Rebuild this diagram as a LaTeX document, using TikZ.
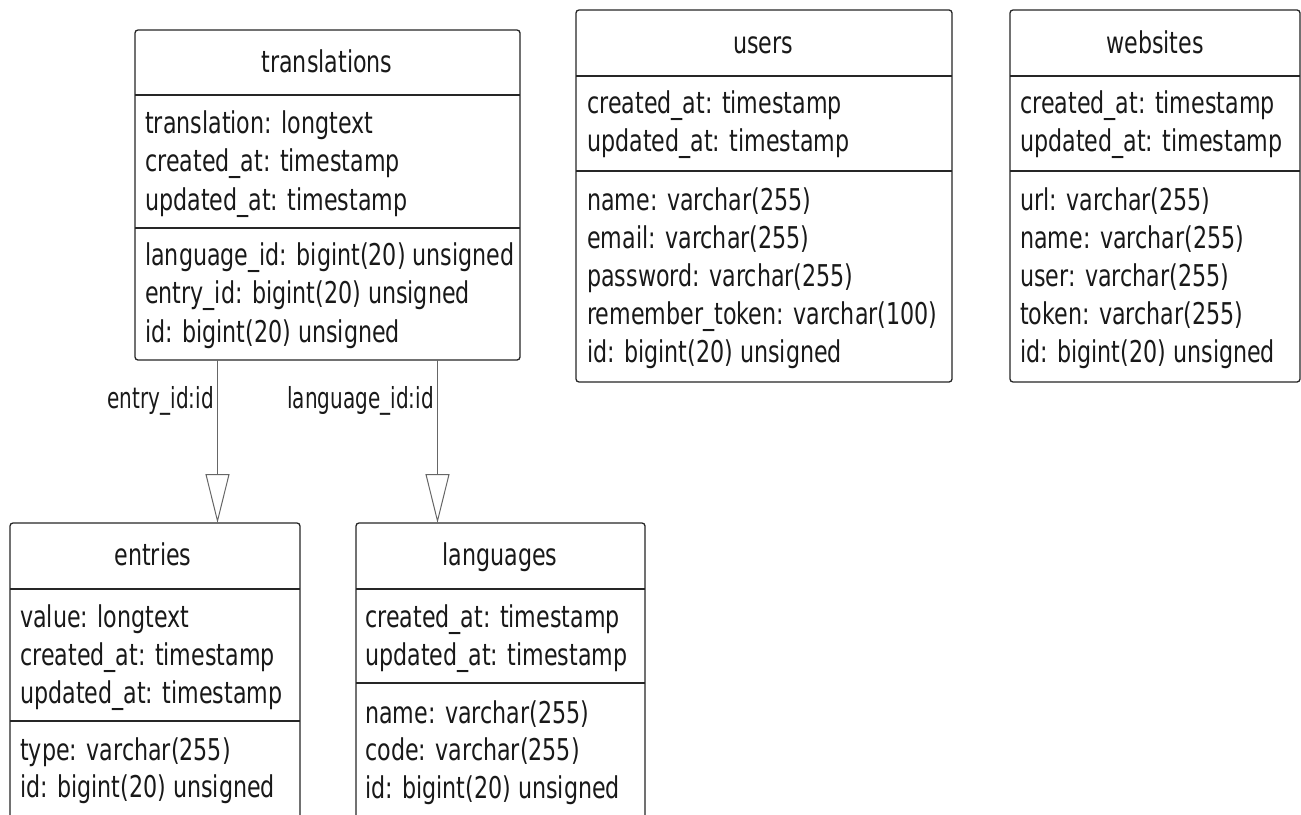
\documentclass[tikz,border=0pt]{standalone}
\usepackage{fontspec}
\setmainfont{DejaVu Sans}[FakeStretch=0.74]
\newfontfamily\lblfont{DejaVu Sans}[FakeStretch=0.69]
\usetikzlibrary{arrows.meta}
\begin{document}
\begin{tikzpicture}[x=1pt,y=-1pt,
  tbl/.style={draw=black!85, line width=1.3pt, rounded corners=3pt, anchor=north west, inner sep=0pt, outer sep=0pt, fill=white},
  sepline/.style={draw=black!85, line width=1.3pt},
  fld/.style={anchor=base west, inner sep=0pt, font=\fontsize{30}{36}\selectfont, text=black!90},
  ttl/.style={anchor=base, inner sep=0pt, font=\fontsize{30}{36}\selectfont, text=black!90},
  lbl/.style={anchor=base east, inner sep=0pt, font=\lblfont\fontsize{29}{34}\selectfont, text=black!90},
  fk/.style={draw=black!60, line width=1pt, -{Triangle[open, length=49pt, width=24pt, line width=1pt]}}
]
\useasboundingbox (0,0) rectangle (1301,814);
\clip (0,0) rectangle (1301,814);

% ---------- translations ----------
\node[tbl, minimum width=385pt, minimum height=330pt] (translations) at (135,30) {};
\draw[sepline] (translations.west |- 0,95) -- (translations.east |- 0,95);
\draw[sepline] (translations.west |- 0,228) -- (translations.east |- 0,228);
\node[ttl] (translations-t) at (327,72) {translations};
\foreach \t [count=\i] in {translation: longtext, created\_at: timestamp, updated\_at: timestamp}
  \node[fld] (translations-a\i) at (145,{133+(\i-1)*38.5}) {\t};
\foreach \t [count=\i] in {language\_id: bigint(20) unsigned, entry\_id: bigint(20) unsigned, id: bigint(20) unsigned}
  \node[fld] (translations-b\i) at (145,{265+(\i-1)*38.5}) {\t};

% ---------- users ----------
\node[tbl, minimum width=376pt, minimum height=372pt] (users) at (576,10) {};
\draw[sepline] (users.west |- 0,76) -- (users.east |- 0,76);
\draw[sepline] (users.west |- 0,171) -- (users.east |- 0,171);
\node[ttl] (users-t) at (763,53) {users};
\foreach \t [count=\i] in {created\_at: timestamp, updated\_at: timestamp}
  \node[fld] (users-a\i) at (587,{113+(\i-1)*38.5}) {\t};
\foreach \t [count=\i] in {name: varchar(255), email: varchar(255), password: varchar(255), remember\_token: varchar(100), id: bigint(20) unsigned}
  \node[fld] (users-b\i) at (587,{210+(\i-1)*38}) {\t};

% ---------- websites ----------
\node[tbl, minimum width=290pt, minimum height=372pt] (websites) at (1010,10) {};
\draw[sepline] (websites.west |- 0,76) -- (websites.east |- 0,76);
\draw[sepline] (websites.west |- 0,171) -- (websites.east |- 0,171);
\node[ttl] (websites-t) at (1155,53) {websites};
\foreach \t [count=\i] in {created\_at: timestamp, updated\_at: timestamp}
  \node[fld] (websites-a\i) at (1020,{113+(\i-1)*38.5}) {\t};
\foreach \t [count=\i] in {url: varchar(255), name: varchar(255), user: varchar(255), token: varchar(255), id: bigint(20) unsigned}
  \node[fld] (websites-b\i) at (1020,{210+(\i-1)*38}) {\t};

% ---------- entries ----------
\node[tbl, minimum width=290pt, minimum height=320pt] (entries) at (10,523) {};
\draw[sepline] (entries.west |- 0,589) -- (entries.east |- 0,589);
\draw[sepline] (entries.west |- 0,721) -- (entries.east |- 0,721);
\node[ttl] (entries-t) at (153,565) {entries};
\foreach \t [count=\i] in {value: longtext, created\_at: timestamp, updated\_at: timestamp}
  \node[fld] (entries-a\i) at (20,{627+(\i-1)*38}) {\t};
\foreach \t [count=\i] in {type: varchar(255), id: bigint(20) unsigned}
  \node[fld] (entries-b\i) at (20,{760+(\i-1)*37.5}) {\t};

% ---------- languages ----------
\node[tbl, minimum width=289pt, minimum height=320pt] (languages) at (356,523) {};
\draw[sepline] (languages.west |- 0,589) -- (languages.east |- 0,589);
\draw[sepline] (languages.west |- 0,683) -- (languages.east |- 0,683);
\node[ttl] (languages-t) at (500,565) {languages};
\foreach \t [count=\i] in {created\_at: timestamp, updated\_at: timestamp}
  \node[fld] (languages-a\i) at (365,{627+(\i-1)*38}) {\t};
\foreach \t [count=\i] in {name: varchar(255), code: varchar(255), id: bigint(20) unsigned}
  \node[fld] (languages-b\i) at (365,{723+(\i-1)*37.5}) {\t};

% ---------- connectors ----------
\coordinate (ex) at (217.5,0);
\coordinate (lx) at (437.5,0);
\draw[fk] (translations.south -| ex) -- (entries.north -| ex);
\draw[fk] (translations.south -| lx) -- (languages.north -| lx);
\node[lbl] (lbl-entry) at (214,408) {entry\_id:id};
\node[lbl] (lbl-lang) at (434,408) {language\_id:id};
\end{tikzpicture}
\end{document}
